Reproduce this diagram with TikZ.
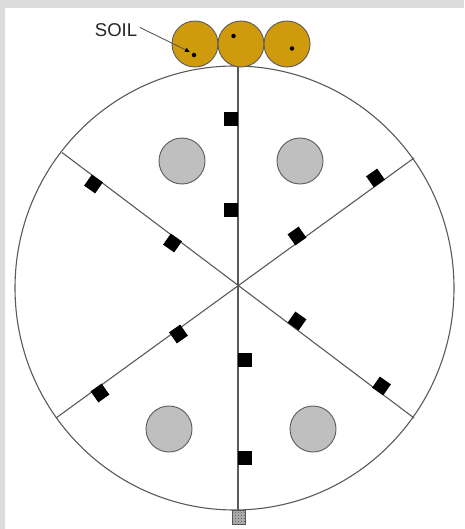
\documentclass[tikz,border=0pt]{standalone}
\usepackage{fontspec}
\setmainfont{Liberation Sans}
\usetikzlibrary{patterns,arrows.meta,shapes.geometric}
\definecolor{soilc}{HTML}{CF9A0C}
\definecolor{margin}{HTML}{DCDCDC}
\definecolor{linec}{HTML}{5A5A5A}
\tikzset{
  rim/.style={ellipse,draw=linec,line width=1.1pt,inner sep=0pt,minimum width=439pt,minimum height=444pt},
  spoke/.style={draw=linec,line width=1.1pt},
  soilball/.style={circle,draw=linec,fill=soilc,line width=0.9pt,inner sep=0pt,minimum size=46pt},
  hole/.style={circle,draw=linec,fill=black!25,line width=0.9pt,inner sep=0pt,minimum size=46pt},
  sensor/.style={rectangle,fill=black,inner sep=0pt,minimum size=13.5pt},
  grain/.style={circle,fill=black,inner sep=0pt,minimum size=4.5pt},
}
\begin{document}
\begin{tikzpicture}[x=1pt,y=-1pt]
\useasboundingbox (0,0) rectangle (464,529);
\fill[margin] (0,0) rectangle (464,529);
\fill[white] (5,8) rectangle (464,529);
\node[rim] (R) at (234.5,288) {};
\coordinate (T) at (238,66.5);
\coordinate (B) at (238,510);
\coordinate (UL) at (62,152.5);
\coordinate (UR) at (414,158);
\coordinate (LL) at (56,418);
\coordinate (LR) at (414,418);
\draw[spoke] (T) -- (B);
\draw[spoke] (UL) -- (LR);
\draw[spoke] (UR) -- (LL);
\node[soilball] (S1) at (195,44) {};
\node[soilball] (S2) at (241,44) {};
\node[soilball] (S3) at (287,44) {};
\node[grain] (G1) at (194,55) {};
\node[grain] (G2) at (233.5,36) {};
\node[grain] (G3) at (292,48.5) {};
\node[hole] at (182,161) {};
\node[hole] at (300,161) {};
\node[hole] at (169,429) {};
\node[hole] at (313,429) {};
\node[sensor] at (231,119) {};
\node[sensor] at (231,210) {};
\node[sensor] at (245,360) {};
\node[sensor] at (245,458) {};
\node[sensor,rotate=-35] at (93.5,184) {};
\node[sensor,rotate=-35] at (172.5,243) {};
\node[sensor,rotate=35] at (375.5,178) {};
\node[sensor,rotate=35] at (297,236) {};
\node[sensor,rotate=35] at (178.5,334) {};
\node[sensor,rotate=35] at (100,393) {};
\node[sensor,rotate=-35] at (297,321) {};
\node[sensor,rotate=-35] at (381.5,386) {};
\node[rectangle,draw=linec,line width=0.5pt,fill=black!30,inner sep=0pt,minimum size=13.5pt] (P) at (238.5,517.3) {};
\fill[pattern=crosshatch dots,pattern color=black!70] (P.south west) rectangle (P.north east);
\node[text=black!85,font=\fontsize{18.5}{18.5}\selectfont,inner sep=0pt] (L) at (116,30.5) {SOIL};
\coordinate (LS) at (140,27.5);
\draw[linec,line width=0.9pt,-{Latex[length=5pt,width=5pt,color=black]}] (LS) -- (190,52);
\end{tikzpicture}
\end{document}
